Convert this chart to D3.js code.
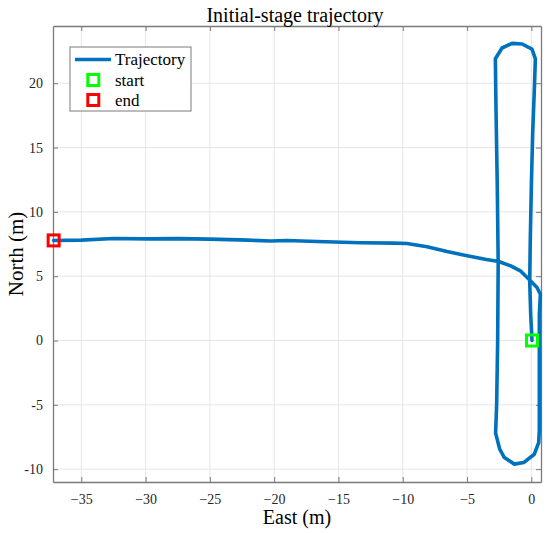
<!DOCTYPE html>
<html><head><meta charset="utf-8">
<script src="https://cdn.jsdelivr.net/npm/d3@7"></script>
<style>body{margin:0;background:#fff}svg{display:block}text{font-family:"Liberation Serif","Times New Roman",serif}</style>
</head><body><div id="chart"></div>
<script>
const trajEast = [0.05,-0.05,-0.13,-0.08,0.0,0.1,0.25,0.31,0.05,-0.72,-1.5,-2.28,-2.8,-2.75,-2.65,-2.58,-2.6,-2.62,-2.7,-2.78,-2.46,-2.1,-1.32,-0.6,0.23,0.57,0.62,0.62,0.62,0.7,0.44,-0.23,-0.86,-1.6,-2.54,-3.5,-5.0,-6.56,-8.11,-9.67,-10.7,-13.3,-16.66,-19.0,-20.3,-22.0,-25.0,-27.5,-30.0,-32.5,-35.0,-37.15];
const trajNorth = [0.0,2.0,4.6,8.0,12.0,16.0,20.0,21.9,22.66,23.05,23.1,22.74,21.9,18.0,12.0,6.0,3.0,0.0,-5.0,-7.2,-8.45,-9.1,-9.61,-9.49,-8.84,-7.93,-7.0,-3.1,2.0,3.6,4.12,4.8,5.42,5.8,6.14,6.3,6.59,6.92,7.29,7.54,7.57,7.6,7.7,7.78,7.73,7.8,7.88,7.92,7.9,7.93,7.8,7.78];
const xTicks = [-35,-30,-25,-20,-15,-10,-5,0];
const yTicks = [-10,-5,0,5,10,15,20];
const legendLabels = ["Trajectory","start","end"];
const titleText = "Initial-stage trajectory";
const xLabel = "East (m)", yLabel = "North (m)";

const W=550,H=533, L=53, R=541, T=26, B=482;
const svg=d3.select("#chart").append("svg").attr("width",W).attr("height",H);
const x=d3.scaleLinear().domain([-37.2,0.75]).range([L,R]);
const y=d3.scaleLinear().domain([-11.0,24.45]).range([B,T]);
const grid="#e6e6e6", axc="#7a7a7a", txt="#262626", blue="#0072BD";

// grid
svg.append("g").selectAll("line").data(xTicks).join("line")
 .attr("x1",d=>x(d)).attr("x2",d=>x(d)).attr("y1",T).attr("y2",B).attr("stroke",grid).attr("stroke-width",1);
svg.append("g").selectAll("line").data(yTicks).join("line")
 .attr("y1",d=>y(d)).attr("y2",d=>y(d)).attr("x1",L).attr("x2",R).attr("stroke",grid).attr("stroke-width",1);

// axes
const fmtX=d=>d<0?"\u2212"+Math.abs(d):String(d);
const fmtY=d=>String(d);
const ax=svg.append("g").attr("transform",`translate(0,${B})`).call(d3.axisBottom(x).tickValues(xTicks).tickSizeInner(-5).tickSizeOuter(0).tickPadding(12).tickFormat(fmtX));
const axT=svg.append("g").attr("transform",`translate(0,${T})`).call(d3.axisTop(x).tickValues(xTicks).tickSizeInner(-5).tickSizeOuter(0).tickFormat(""));
const ay=svg.append("g").attr("transform",`translate(${L},0)`).call(d3.axisLeft(y).tickValues(yTicks).tickSizeInner(-5).tickSizeOuter(0).tickPadding(10).tickFormat(fmtY));
const ayR=svg.append("g").attr("transform",`translate(${R},0)`).call(d3.axisRight(y).tickValues(yTicks).tickSizeInner(-5).tickSizeOuter(0).tickFormat(""));
[ax,axT,ay,ayR].forEach(g=>{
  g.select(".domain").attr("stroke",axc).attr("stroke-width",1.3);
  g.selectAll(".tick line").attr("stroke",axc).attr("stroke-width",1);
  g.selectAll(".tick text").attr("fill",txt).style("font-family","Liberation Serif").style("font-size","14px");
});

// trajectory
const pts=trajEast.map((e,i)=>[e,trajNorth[i]]);
svg.append("path").datum(pts).attr("d",d3.line().x(d=>x(d[0])).y(d=>y(d[1])))
 .attr("fill","none").attr("stroke",blue).attr("stroke-width",3.6).attr("stroke-linejoin","round").attr("stroke-linecap","round");

// markers
const ms=11;
const s=pts[0], e=pts[pts.length-1];
svg.append("rect").attr("x",x(s[0])-ms/2).attr("y",y(s[1])-ms/2).attr("width",ms).attr("height",ms).attr("fill","none").attr("stroke","#00ff00").attr("stroke-width",3);
svg.append("rect").attr("x",x(e[0])-ms/2).attr("y",y(e[1])-ms/2).attr("width",ms).attr("height",ms).attr("fill","none").attr("stroke","#ff0000").attr("stroke-width",3);

// title & labels
svg.append("text").attr("x",295).attr("y",22).attr("text-anchor","middle").attr("fill","#000").style("font-size","20px").text(titleText);
svg.append("text").attr("x",(L+R)/2).attr("y",524).attr("text-anchor","middle").attr("fill","#000").style("font-size","20px").text(xLabel);
svg.append("text").attr("transform",`translate(23,${(T+B)/2}) rotate(-90)`).attr("text-anchor","middle").attr("fill","#000").style("font-size","21px").text(yLabel);

// legend
const lg=svg.append("g");
lg.append("rect").attr("x",70).attr("y",47).attr("width",121).attr("height",64).attr("fill","#fff").attr("stroke","#7a7a7a").attr("stroke-width",1);
lg.append("line").attr("x1",75).attr("x2",111).attr("y1",59.5).attr("y2",59.5).attr("stroke",blue).attr("stroke-width",3.6);
lg.append("rect").attr("x",93.3-5.5).attr("y",80-5.5).attr("width",ms).attr("height",ms).attr("fill","none").attr("stroke","#00ff00").attr("stroke-width",3);
lg.append("rect").attr("x",93.3-5.5).attr("y",100-5.5).attr("width",ms).attr("height",ms).attr("fill","none").attr("stroke","#ff0000").attr("stroke-width",3);
const ly=[59.5,80,100];
lg.selectAll("text.lt").data(legendLabels).join("text").attr("class","lt")
 .attr("x",115).attr("y",(d,i)=>ly[i]+5.5).attr("fill","#000").style("font-size","17px").text(d=>d);
</script></body></html>
